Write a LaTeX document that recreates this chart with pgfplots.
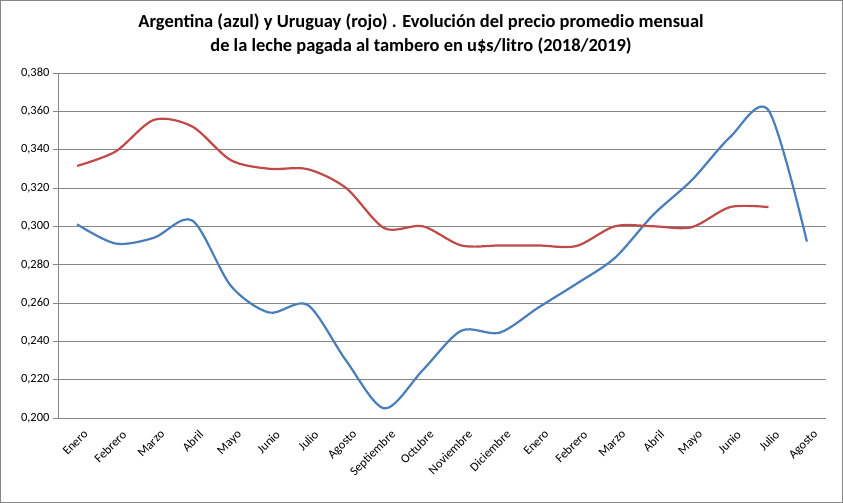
\documentclass[border=0pt]{standalone}
\usepackage{pgfplots}
\pgfplotsset{compat=1.18}
\usepackage{fontspec}
\setmainfont{Carlito}
\definecolor{exblue}{HTML}{4A7EBB}
\definecolor{exred}{HTML}{BE4B48}
\definecolor{gridgray}{HTML}{868686}
\begin{document}
\begin{tikzpicture}[x=1bp,y=1bp]
\draw[gridgray, line width=0.8bp] (0.5,0.5) rectangle (842.5,502.5);
\node[font=\bfseries\fontsize{18.5}{24}\selectfont, align=center] at (421,469) {Argentina (azul) y Uruguay (rojo) . Evolución del precio promedio mensual\\de la leche pagada al tambero en u\$s/litro (2018/2019)};
\begin{axis}[
  at={(58bp,85bp)}, anchor=south west,
  scale only axis, width=768bp, height=345bp,
  xmin=-0.5, xmax=19.5, ymin=0.2, ymax=0.38,
  axis x line*=bottom, axis y line*=left,
  axis line style={gridgray, line width=0.8bp},
  xtick={0,...,19},
  xticklabels={Enero,Febrero,Marzo,Abril,Mayo,Junio,Julio,Agosto,Septiembre,Octubre,Noviembre,Diciembre,Enero,Febrero,Marzo,Abril,Mayo,Junio,Julio,Agosto},
  x tick label style={rotate=45, anchor=north east, font=\fontsize{12.5}{13}\selectfont, xshift=3bp, yshift=-5bp},
  major x tick style={draw=none},
  extra x ticks={-0.5,0.5,...,19.5},
  extra x tick labels={},
  extra x tick style={tick style={gridgray, line width=0.8bp}, major tick length=5bp, tick align=outside, grid=none},
  ytick={0.2,0.22,...,0.381},
  ymajorgrids,
  grid style={gridgray, line width=0.8bp},
  y tick style={gridgray, line width=0.8bp},
  major tick length=5bp, tick align=outside,
  y tick label style={font=\fontsize{12.5}{13}\selectfont},
  yticklabel style={/pgf/number format/.cd, fixed, fixed zerofill, precision=3, use comma, assume math mode=true},
  clip=false,
]
\addplot[exblue, line width=2.2bp, smooth, tension=0.5] coordinates {
(0,0.301) (1,0.291) (2,0.294) (3,0.303) (4,0.269) (5,0.255) (6,0.259) (7,0.230) (8,0.205) (9,0.225)
(10,0.2455) (11,0.2445) (12,0.2575) (13,0.270) (14,0.2835) (15,0.306) (16,0.324) (17,0.3465) (18,0.3605) (19,0.292)};
\addplot[exred, line width=2.2bp, smooth, tension=0.5] coordinates {
(0,0.3315) (1,0.339) (2,0.3555) (3,0.352) (4,0.3345) (5,0.330) (6,0.3298) (7,0.320) (8,0.299) (9,0.300)
(10,0.290) (11,0.290) (12,0.290) (13,0.2897) (14,0.300) (15,0.300) (16,0.2995) (17,0.310) (18,0.310)};
\end{axis}
\end{tikzpicture}
\end{document}
